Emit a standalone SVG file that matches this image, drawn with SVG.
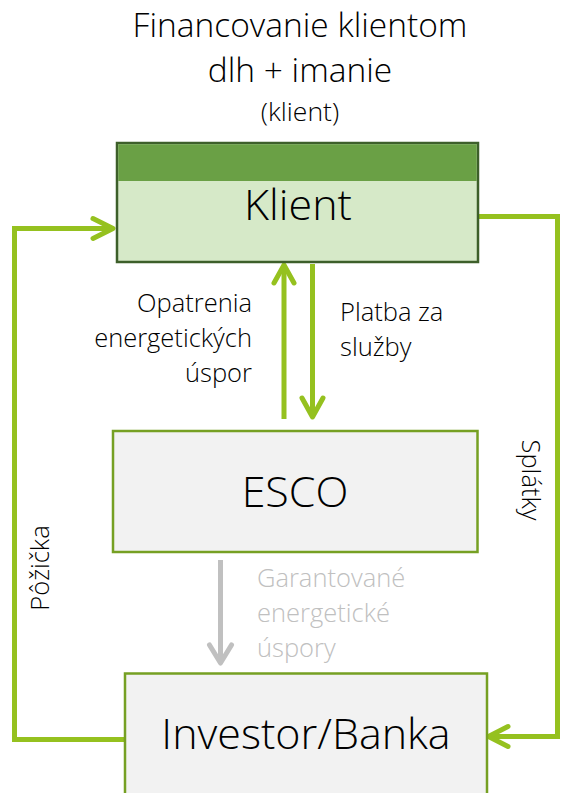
<svg xmlns="http://www.w3.org/2000/svg" width="561" height="793" viewBox="0 0 561 793">
  <defs>
    <style>
      text { font-family: "Open Sans", "Liberation Sans", sans-serif; font-weight: 300; fill: #000; }
      .title { font-size: 33.5px; text-anchor: middle; }
      .sub { font-size: 26.5px; text-anchor: middle; }
      .node { font-size: 43px; text-anchor: middle; }
      .lbl { font-size: 25.5px; }
      .glbl { font-size: 25.5px; fill: #c0c0c0; }
      .flow { fill: none; stroke: #95c11f; stroke-width: 5; }
      .head { fill: none; stroke: #95c11f; stroke-width: 5; stroke-linecap: round; stroke-linejoin: round; }
      .gflow { fill: none; stroke: #c0c0c0; stroke-width: 5; }
      .ghead { fill: none; stroke: #c0c0c0; stroke-width: 5; stroke-linecap: round; stroke-linejoin: round; }
      .box { fill: #f2f2f2; stroke: #76a023; stroke-width: 2.5; }
    </style>
  </defs>
  <rect width="561" height="793" fill="#ffffff"/>

  <g id="title">
    <text class="title" x="300" y="37">Financovanie klientom</text>
    <text class="title" x="300" y="82">dlh + imanie</text>
    <text class="sub" x="300" y="121">(klient)</text>
  </g>

  <g id="connectors">
    <!-- Pôžička: Investor -> Klient -->
    <polyline class="flow" points="125,739.5 14.5,739.5 14.5,228.5 112,228.5"/>
    <polyline class="head" points="93,218.5 113,228.5 93,238.5"/>
    <!-- Splátky: Klient -> Investor -->
    <polyline class="flow" points="479,216.5 557.5,216.5 557.5,736.5 490,736.5"/>
    <polyline class="head" points="508,726.5 488.5,736.5 508,746.5"/>
    <!-- Opatrenia: ESCO -> Klient -->
    <line class="flow" x1="284" y1="419" x2="284" y2="266"/>
    <polyline class="head" points="274,283 284,265 294,283"/>
    <!-- Platba: Klient -> ESCO -->
    <line class="flow" x1="312.5" y1="264" x2="312.5" y2="416"/>
    <polyline class="head" points="302,398 312.5,417 323,398"/>
    <!-- Garantované úspory -->
    <line class="gflow" x1="220.5" y1="560" x2="220.5" y2="661"/>
    <polyline class="ghead" points="209.5,645 220.5,663 231.5,645"/>
  </g>

  <g id="labels">
    <text class="lbl" x="252" y="312" text-anchor="end">Opatrenia</text>
    <text class="lbl" x="252" y="347" text-anchor="end">energetických</text>
    <text class="lbl" x="252" y="382" text-anchor="end">úspor</text>
    <text class="lbl" x="340" y="321">Platba za</text>
    <text class="lbl" x="340" y="356">služby</text>
    <text class="glbl" x="257" y="587">Garantované</text>
    <text class="glbl" x="257" y="622">energetické</text>
    <text class="glbl" x="257" y="657">úspory</text>
    <text class="lbl" transform="translate(49,568) rotate(-90)" text-anchor="middle">Pôžička</text>
    <text class="lbl" transform="translate(522,480) rotate(90)" text-anchor="middle">Splátky</text>
  </g>

  <g id="klient">
    <rect x="117" y="143" width="361" height="119" fill="#d6e9c8" stroke="#3d5f2a" stroke-width="2.5"/>
    <rect x="118.25" y="144.25" width="358.5" height="36.75" fill="#6aa045"/>
    <text class="node" x="298" y="220">Klient</text>
  </g>

  <g id="esco">
    <rect class="box" x="113" y="431" width="364.5" height="121"/>
    <text class="node" x="295" y="507">ESCO</text>
  </g>

  <g id="investor">
    <rect class="box" x="125" y="673.5" width="362" height="130"/>
    <text class="node" x="306" y="749">Investor/Banka</text>
  </g>
</svg>
